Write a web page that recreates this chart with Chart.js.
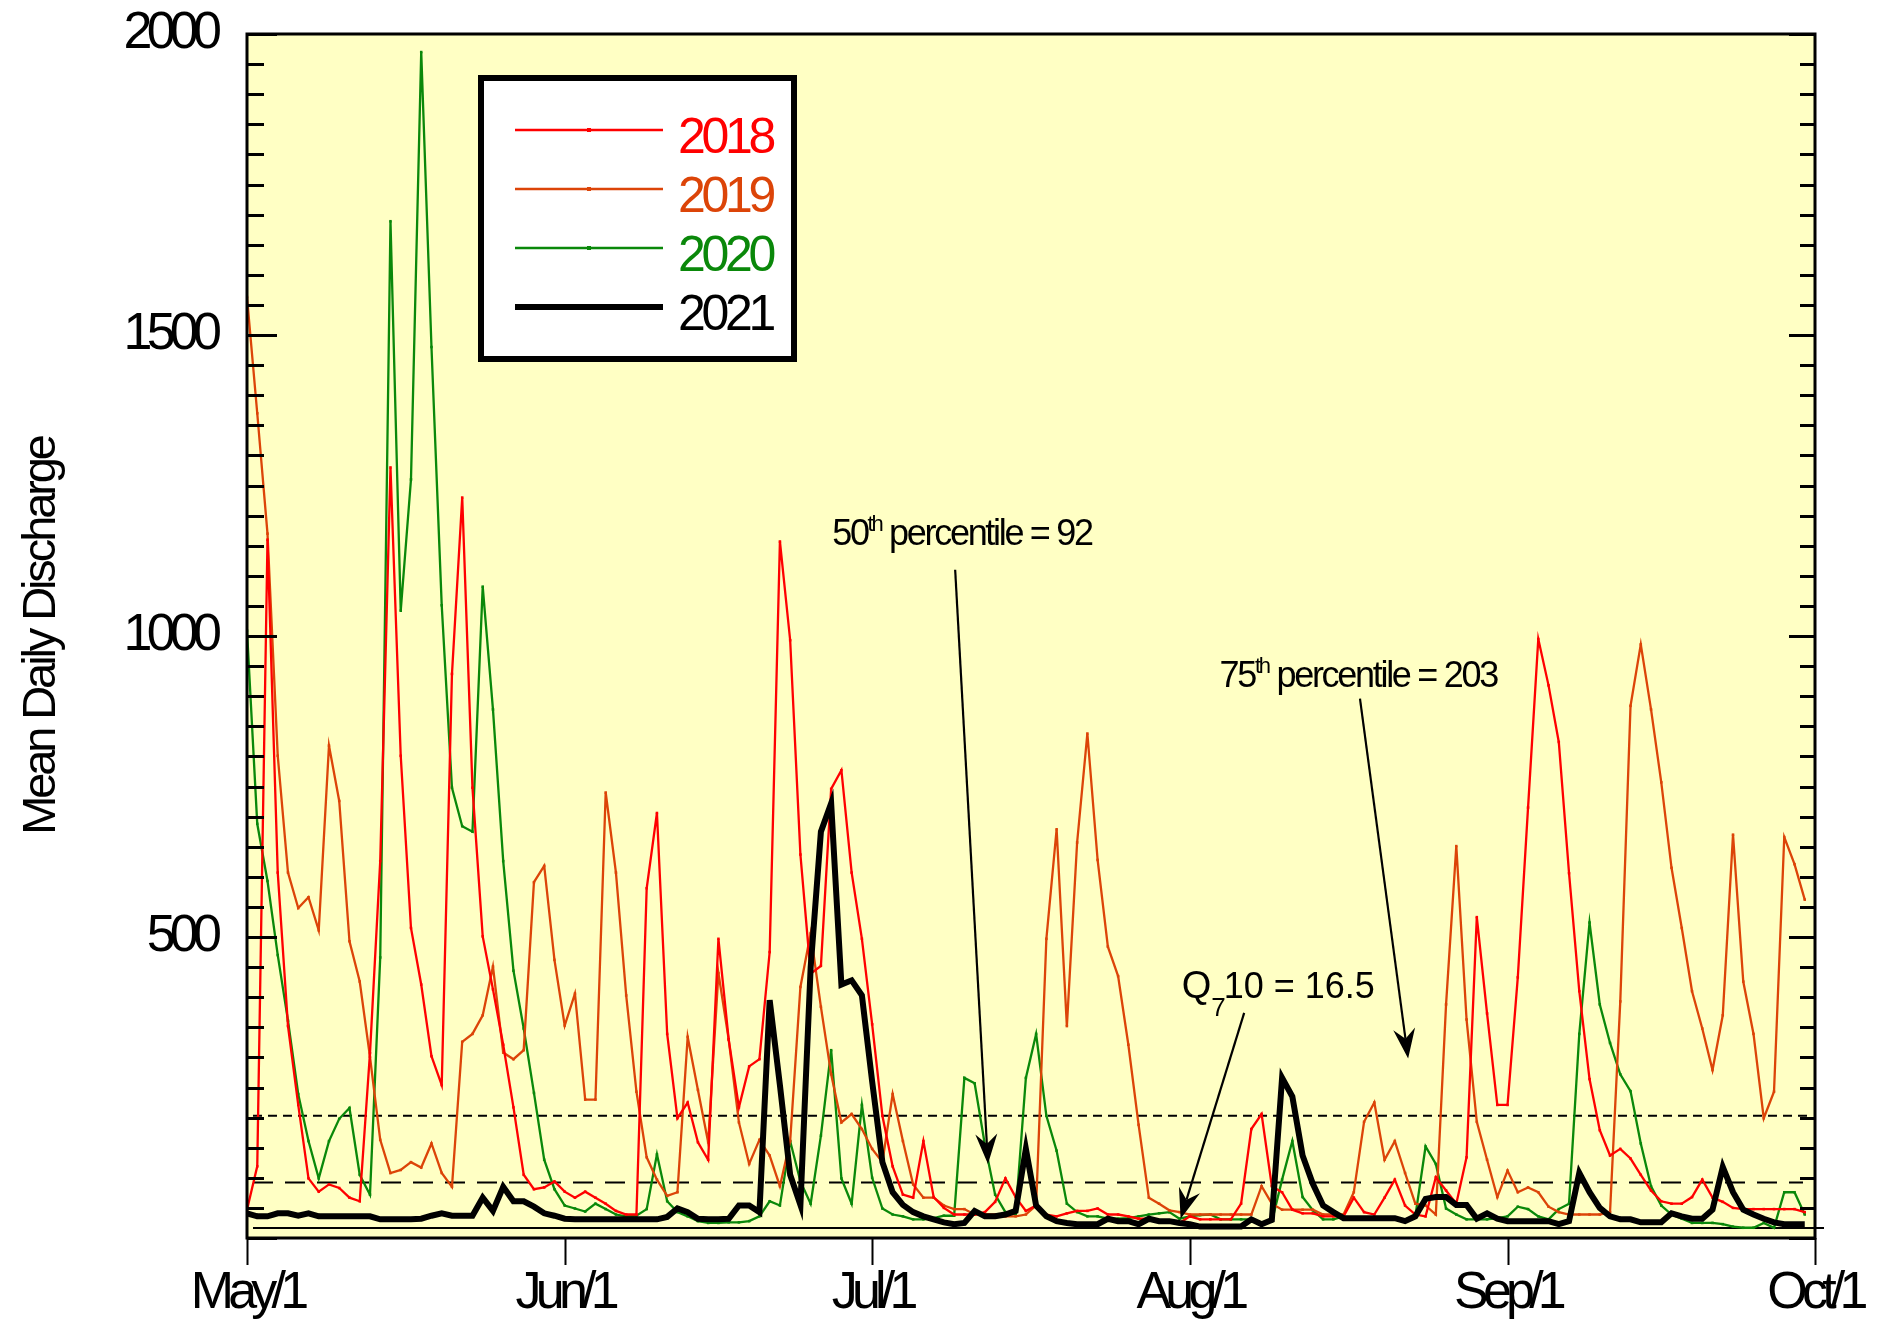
<!DOCTYPE html>
<html>
<head>
<meta charset="utf-8">
<title>Mean Daily Discharge, May - September</title>
<script src="https://cdn.jsdelivr.net/npm/chart.js@4.4.1/dist/chart.umd.min.js"></script>
<style>
  html, body { margin: 0; padding: 0; background: #ffffff; }
  #wrap { width: 1883px; height: 1326px; }
</style>
</head>
<body>
<div id="wrap"><canvas id="flow-chart" width="1883" height="1326"></canvas></div>
<script>
// x axis runs in days from May 1 (0) to Oct 1 (153)
const monthDays = [0, 31, 61, 92, 123, 153];
const monthLabels = ['May/1', 'Jun/1', 'Jul/1', 'Aug/1', 'Sep/1', 'Oct/1'];
const yTicks = [500, 1000, 1500, 2000];
const yearLabels = ['2018', '2019', '2020', '2021'];

// mean daily discharge, one value per day May 1 .. Sep 30
const flow2018 = [
  47, 119, 1160, 607, 352, 221, 99, 77, 89, 83, 67, 61, 307, 626, 1280, 801, 515, 421, 302, 254,
  937, 1230, 748, 501, 413, 321, 217, 105, 81, 84, 94, 77, 67, 77, 67, 57, 45, 39, 39, 581,
  706, 339, 199, 225, 159, 130, 497, 330, 217, 285, 297, 475, 1157, 993, 637, 439, 452, 746, 777, 607,
  497, 355, 203, 119, 72, 67, 161, 68, 50, 39, 39, 39, 43, 60, 99, 68, 45, 54, 39, 36,
  41, 45, 45, 49, 39, 39, 36, 32, 32, 28, 28, 25, 36, 31, 31, 31, 31, 57, 181, 206,
  86, 76, 47, 41, 41, 36, 36, 36, 67, 43, 39, 67, 97, 54, 39, 36, 101, 79, 57, 134,
  533, 373, 221, 221, 433, 715, 995, 918, 824, 606, 410, 264, 179, 137, 148, 132, 105, 79, 61, 57,
  57, 68, 97, 67, 60, 50, 48, 48, 48, 48, 48, 48, 43
];
const flow2019 = [
  1563, 1370, 1170, 801, 607, 548, 566, 511, 818, 726, 493, 426, 301, 163, 108, 113, 126, 117, 157, 108,
  85, 326, 339, 370, 451, 308, 297, 312, 591, 618, 462, 353, 406, 230, 230, 740, 607, 403, 243, 134,
  97, 70, 76, 334, 246, 159, 440, 330, 192, 123, 163, 137, 86, 161, 417, 506, 384, 272, 192, 206,
  181, 148, 126, 239, 161, 89, 67, 67, 54, 48, 48, 39, 39, 39, 36, 36, 39, 54, 497, 679,
  352, 657, 838, 628, 484, 435, 321, 188, 67, 57, 46, 43, 39, 39, 39, 39, 39, 39, 39, 86,
  57, 47, 47, 47, 47, 39, 39, 39, 76, 193, 225, 130, 161, 108, 57, 54, 39, 388, 651, 363,
  193, 130, 68, 112, 76, 84, 76, 52, 43, 39, 39, 39, 39, 43, 393, 884, 986, 878, 757, 615,
  515, 410, 348, 279, 370, 670, 426, 339, 199, 243, 666, 621, 562
];
const flow2020 = [
  1009, 688, 593, 470, 361, 239, 161, 99, 161, 198, 216, 105, 72, 466, 1689, 1042, 1260, 1970, 1480, 1051,
  748, 684, 675, 1082, 878, 626, 444, 348, 241, 130, 81, 54, 49, 44, 57, 48, 39, 36, 37, 48,
  139, 61, 43, 36, 28, 25, 25, 26, 26, 28, 36, 61, 54, 161, 94, 57, 170, 312, 99, 57,
  221, 100, 49, 39, 36, 31, 31, 33, 37, 37, 266, 257, 155, 72, 43, 40, 266, 339, 203, 145,
  57, 43, 36, 36, 32, 32, 33, 36, 39, 41, 43, 32, 36, 38, 39, 31, 31, 31, 31, 25,
  27, 97, 161, 68, 46, 31, 31, 36, 31, 31, 31, 31, 31, 31, 36, 152, 123, 49, 39, 31,
  31, 31, 33, 36, 52, 48, 36, 31, 48, 57, 339, 524, 388, 324, 272, 244, 157, 86, 54, 39,
  32, 25, 25, 25, 23, 19, 17, 17, 25, 17, 76, 76, 39
];
const flow2021 = [
  41, 36, 36, 41, 41, 37, 41, 36, 36, 36, 36, 36, 36, 31, 31, 31, 31, 32, 37, 41,
  37, 37, 37, 67, 45, 85, 61, 61, 52, 41, 37, 32, 31, 31, 31, 31, 31, 31, 31, 31,
  31, 35, 49, 43, 32, 31, 31, 32, 54, 54, 43, 395, 254, 105, 55, 450, 675, 722, 421, 428,
  403, 260, 126, 76, 55, 43, 36, 31, 26, 23, 25, 45, 36, 36, 39, 45, 148, 54, 36, 28,
  25, 23, 23, 23, 32, 28, 28, 23, 32, 28, 28, 25, 23, 19, 19, 19, 19, 19, 31, 23,
  30, 266, 235, 137, 90, 54, 43, 33, 33, 33, 33, 33, 33, 28, 36, 65, 68, 68, 55, 55,
  32, 41, 32, 28, 28, 28, 28, 28, 23, 28, 108, 76, 50, 36, 31, 31, 26, 26, 26, 41,
  36, 32, 32, 47, 118, 76, 47, 39, 32, 26, 23, 23, 23
];

// flow statistics drawn as horizontal reference lines
const q710 = 16.5;
const p50 = 92;
const p75 = 203;

const font = '"Liberation Sans", Arial, sans-serif';

function series(values) {
    return values.map((v, i) => ({ x: i, y: v }));
}

function arrow(ctx, x1, y1, x2, y2) {
    const ang = Math.atan2(y2 - y1, x2 - x1);
    const c = Math.cos(ang), s = Math.sin(ang);
    const len = 30, half = 11, notch = 20;
    ctx.beginPath();
    ctx.moveTo(x1, y1);
    ctx.lineTo(x2 - c * notch, y2 - s * notch);
    ctx.lineWidth = 2.2;
    ctx.stroke();
    ctx.beginPath();
    ctx.moveTo(x2, y2);
    ctx.lineTo(x2 - c * len + s * half, y2 - s * len - c * half);
    ctx.lineTo(x2 - c * notch, y2 - s * notch);
    ctx.lineTo(x2 - c * len - s * half, y2 - s * len + c * half);
    ctx.closePath();
    ctx.fill();
}

// text with a raised or lowered small part, e.g. 50th or Q7
function richText(ctx, x, y, parts, spacing) {
    ctx.letterSpacing = spacing + 'px';
    parts.forEach(p => {
        ctx.font = p.size + 'px ' + font;
        ctx.fillText(p.text, x, y + (p.shift || 0));
        x += ctx.measureText(p.text).width + (p.gap || 0);
    });
    ctx.letterSpacing = '0px';
}

const notes = [
    { spacing: -2.3, parts: [
        { text: '50', size: 36 },
        { text: 'th', size: 22, shift: -14 },
        { text: ' percentile = ' + p50, size: 36 }
      ], at: [57.1, 1151], from: [69.1, 1110], to: [72.3, 123] },
    { spacing: -2.3, parts: [
        { text: '75', size: 36 },
        { text: 'th', size: 22, shift: -14 },
        { text: ' percentile = ' + p75, size: 36 }
      ], at: [94.9, 915], from: [108.6, 896], to: [113.3, 298] },
    { spacing: 0, parts: [
        { text: 'Q', size: 38 },
        { text: '7', size: 26, shift: 18, gap: -2 },
        { text: '10 = ' + q710, size: 36 }
      ], at: [91.2, 399], from: [97.3, 374], to: [91.1, 32] }
];

const framePlugin = {
    id: 'frame',
    beforeDraw(chart) {
        // tick labels are set tight, the way the numbers were typeset
        chart.ctx.letterSpacing = '-5.8px';
    },
    beforeDatasetsDraw(chart) {
        const { ctx, chartArea: a, scales: { y } } = chart;
        ctx.save();
        ctx.fillStyle = '#FFFFC4';
        ctx.fillRect(a.left, a.top, a.right - a.left, a.bottom - a.top);

        ctx.strokeStyle = '#000';
        ctx.lineWidth = 2;
        // 75th percentile - short dashes
        ctx.setLineDash([9, 6]);
        ctx.beginPath();
        ctx.moveTo(a.left + 6, y.getPixelForValue(p75));
        ctx.lineTo(a.right - 8, y.getPixelForValue(p75));
        ctx.stroke();
        // 50th percentile - long dashes
        ctx.setLineDash([20, 12]);
        ctx.beginPath();
        ctx.moveTo(a.left + 6, y.getPixelForValue(p50));
        ctx.lineTo(a.right - 12, y.getPixelForValue(p50));
        ctx.stroke();
        // 7Q10 - solid
        ctx.setLineDash([]);
        ctx.beginPath();
        ctx.moveTo(a.left + 6, y.getPixelForValue(q710));
        ctx.lineTo(a.right + 9, y.getPixelForValue(q710));
        ctx.stroke();
        ctx.restore();
    },
    afterDatasetsDraw(chart) {
        const { ctx, chartArea: a, scales: { x, y } } = chart;
        ctx.save();

        // axes frame with inward ticks on both sides
        ctx.strokeStyle = '#000';
        ctx.lineWidth = 3;
        ctx.strokeRect(a.left, a.top, a.right - a.left, a.bottom - a.top);
        ctx.beginPath();
        for (let v = 0; v <= 2000; v += 50) {
            const py = Math.round(y.getPixelForValue(v)) + 0.5;
            const major = v % 500 === 0;
            ctx.moveTo(a.left, py);
            ctx.lineTo(a.left + (major ? 30 : 17), py);
            ctx.moveTo(a.right, py);
            ctx.lineTo(a.right - (major ? 26 : 15), py);
        }
        ctx.stroke();
        ctx.lineWidth = 2;
        ctx.beginPath();
        monthDays.forEach(d => {
            const px = Math.round(x.getPixelForValue(d)) + 0.5;
            ctx.moveTo(px, a.bottom);
            ctx.lineTo(px, a.bottom + 27);
        });
        ctx.stroke();

        // y axis title
        ctx.save();
        ctx.translate(42, (a.top + a.bottom) / 2);
        ctx.rotate(-Math.PI / 2);
        ctx.fillStyle = '#000';
        ctx.font = '47px ' + font;
        ctx.letterSpacing = '-3.1px';
        ctx.textAlign = 'center';
        ctx.textBaseline = 'middle';
        ctx.fillText('Mean Daily Discharge', 0, 0);
        ctx.restore();

        // annotations with arrows
        ctx.fillStyle = '#000';
        ctx.strokeStyle = '#000';
        ctx.textBaseline = 'alphabetic';
        ctx.textAlign = 'left';
        notes.forEach(n => {
            richText(ctx, x.getPixelForValue(n.at[0]), y.getPixelForValue(n.at[1]), n.parts, n.spacing);
            arrow(ctx,
                x.getPixelForValue(n.from[0]), y.getPixelForValue(n.from[1]),
                x.getPixelForValue(n.to[0]), y.getPixelForValue(n.to[1]));
        });

        // boxed legend
        const bx = a.left + 231, by = a.top + 41, bw = 319, bh = 287;
        ctx.fillStyle = '#fff';
        ctx.fillRect(bx, by, bw, bh);
        ctx.lineWidth = 6;
        ctx.strokeRect(bx + 3, by + 3, bw - 6, bh - 6);
        ctx.font = '50px ' + font;
        ctx.letterSpacing = '-4.3px';
        ctx.textBaseline = 'middle';
        chart.data.datasets.forEach((ds, i) => {
            const ly = by + 55 + i * 59;
            ctx.strokeStyle = ds.borderColor;
            ctx.lineWidth = ds.borderWidth;
            ctx.beginPath();
            ctx.moveTo(bx + 37, ly);
            ctx.lineTo(bx + 185, ly);
            ctx.stroke();
            ctx.fillStyle = ds.borderColor;
            if (ds.pointRadius > 0) {
                ctx.fillRect(bx + 109, ly - 2, 4, 4);
            }
            ctx.fillText(ds.label, bx + 200, ly + 9);
        });
        ctx.restore();
    }
};

const ctx = document.getElementById('flow-chart').getContext('2d');
const colors = ['#FF0000', '#DC4408', '#0A880A', '#000000'];
const flows = [flow2018, flow2019, flow2020, flow2021];

new Chart(ctx, {
    type: 'line',
    data: {
        datasets: flows.map((vals, i) => ({
            label: yearLabels[i],
            data: series(vals),
            borderColor: colors[i],
            backgroundColor: colors[i],
            borderWidth: i === 3 ? 6 : 2.3,
            pointRadius: i === 3 ? 0 : 1.8,
            pointStyle: 'rect',
            pointBorderWidth: 0,
            tension: 0,
            order: i === 3 ? 0 : i + 1
        }))
    },
    options: {
        responsive: false,
        animation: false,
        devicePixelRatio: 1,
        layout: { padding: { left: 0, top: 34, right: 68, bottom: 0 } },
        plugins: {
            legend: { display: false },
            tooltip: { enabled: false }
        },
        scales: {
            x: {
                type: 'linear',
                min: 0,
                max: 153,
                grid: { display: false },
                border: { display: false },
                afterBuildTicks: scale => {
                    scale.ticks = monthDays.map(d => ({ value: d }));
                },
                afterFit: scale => {
                    scale.height = 88;
                    scale.paddingLeft = 0;
                    scale.paddingRight = 0;
                },
                ticks: {
                    autoSkip: false,
                    maxRotation: 0,
                    padding: 16,
                    color: '#000',
                    font: { family: font, size: 52 },
                    callback: value => monthLabels[monthDays.indexOf(value)]
                }
            },
            y: {
                min: 0,
                max: 2000,
                grid: { display: false },
                border: { display: false },
                afterBuildTicks: scale => {
                    scale.ticks = yTicks.map(v => ({ value: v }));
                },
                afterFit: scale => {
                    scale.width = 247;
                    scale.paddingTop = 0;
                    scale.paddingBottom = 0;
                },
                ticks: {
                    padding: 23,
                    color: '#000',
                    font: { family: font, size: 52 },
                    callback: value => String(value)
                }
            }
        }
    },
    plugins: [framePlugin]
});
</script>
</body>
</html>
